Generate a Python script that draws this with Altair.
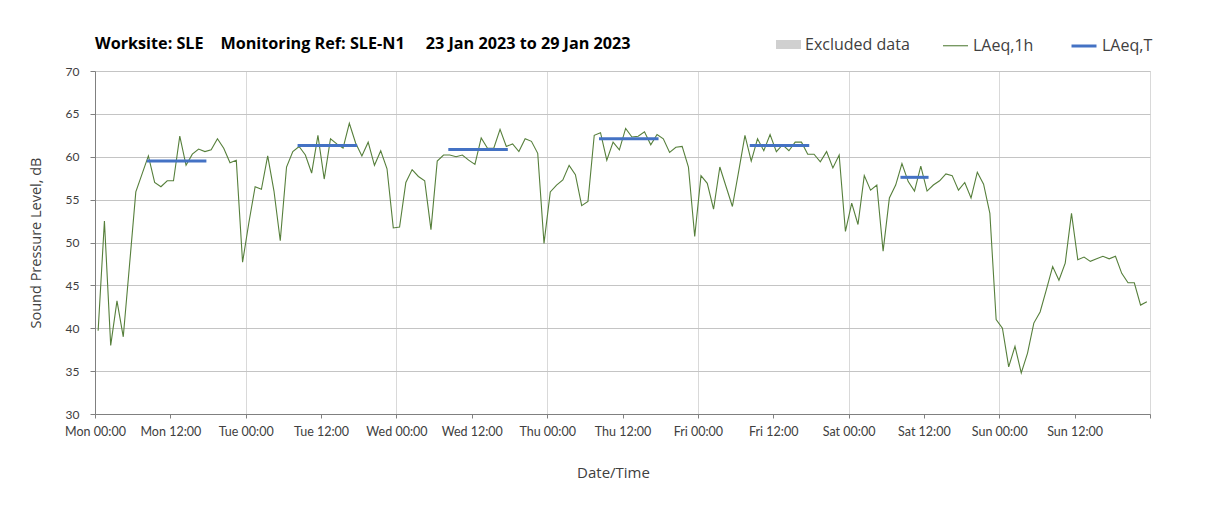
import altair as alt
import pandas as pd

DAYS = ["Mon", "Tue", "Wed", "Thu", "Fri", "Sat", "Sun"]

# LAeq,1h hourly values (dB), one list per day, points at hh:30
mon = [39.7, 52.5, 38.0, 43.2, 39.0, 47.4, 55.9, 58.0, 60.1, 57.0, 56.5, 57.2,
       57.2, 62.4, 59.0, 60.3, 60.9, 60.6, 60.8, 62.1, 61.0, 59.3, 59.6, 47.7]
tue = [52.3, 56.5, 56.2, 60.1, 56.0, 50.2, 58.8, 60.6, 61.2, 60.2, 58.1, 62.5,
       57.4, 62.1, 61.5, 61.0, 63.9, 61.6, 60.1, 61.7, 59.0, 60.7, 58.6, 51.7]
wed = [51.8, 57.0, 58.5, 57.7, 57.2, 51.5, 59.5, 60.2, 60.2, 60.0, 60.2, 59.6,
       59.1, 62.2, 61.0, 61.0, 63.2, 61.2, 61.5, 60.6, 62.1, 61.8, 60.4, 49.9]
thu = [55.9, 56.7, 57.3, 59.0, 57.9, 54.3, 54.8, 62.5, 62.8, 59.6, 61.7, 60.8,
       63.3, 62.3, 62.4, 62.9, 61.4, 62.6, 62.1, 60.5, 61.1, 61.2, 58.8, 50.7]
fri = [57.8, 56.9, 53.9, 58.8, 56.5, 54.2, 58.3, 62.5, 59.5, 62.1, 60.7, 62.6,
       60.6, 61.4, 60.7, 61.7, 61.7, 60.3, 60.3, 59.4, 60.6, 58.7, 60.2, 51.3]
sat = [54.6, 52.1, 57.8, 56.1, 56.7, 49.0, 55.2, 56.7, 59.2, 57.1, 56.0, 58.9,
       56.0, 56.7, 57.2, 58.0, 57.8, 56.1, 57.0, 55.2, 58.2, 56.8, 53.4, 41.0]
sun = [40.0, 35.5, 37.9, 34.8, 37.1, 40.6, 41.9, 44.5, 47.2, 45.6, 47.6, 53.4,
       48.0, 48.3, 47.8, 48.1, 48.4, 48.1, 48.4, 46.4, 45.3, 45.3, 42.7, 43.1]

# LAeq,T daytime periods
t_day = [0, 1, 2, 3, 4, 5]
t_start_hr = [8.5, 8.5, 8.5, 8.5, 8.5, 8.5]
t_end_hr = [17.5, 17.5, 17.5, 17.5, 17.5, 12.5]
t_value = [59.5, 61.3, 60.85, 62.1, 61.3, 57.6]

# Excluded data periods (none in this week)
excluded_start = []
excluded_end = []

LINE_SERIES = ["LAeq,1h", "LAeq,T"]
LINE_COLORS = ["#567f3b", "#4472c4"]
LINE_WIDTHS = [1.1, 3]

rows = []
for d, vals in enumerate([mon, tue, wed, thu, fri, sat, sun]):
    for h, v in enumerate(vals):
        rows.append({"t": d * 24 + h + 0.5, "level": v, "series": "LAeq,1h", "seg": 99})
df_1h = pd.DataFrame(rows)

trows = []
for d, s, e, v in zip(t_day, t_start_hr, t_end_hr, t_value):
    trows.append({"t": d * 24 + s, "level": v, "series": "LAeq,T", "seg": d})
    trows.append({"t": d * 24 + e, "level": v, "series": "LAeq,T", "seg": d})
df_t = pd.DataFrame(trows)

df_ex = pd.DataFrame({"t": pd.Series(excluded_start, dtype=float),
                      "t2": pd.Series(excluded_end, dtype=float),
                      "kind": pd.Series(["Excluded data"] * len(excluded_start), dtype=str)})

FONT = "Lato"
FONT2 = "Open Sans"
TXT = "#404040"

day_arr = "[" + ",".join("'%s'" % d for d in DAYS) + "]"
x_enc = alt.X(
    "t:Q",
    scale=alt.Scale(domain=[0, 168], nice=False, zero=False),
    axis=alt.Axis(
        title="Date/Time",
        values=list(range(0, 169, 12)),
        labelExpr="datum.value >= 168 ? '' : " + day_arr +
                  "[floor(datum.value/24)] + (datum.value % 24 == 0 ? ' 00:00' : ' 12:00')",
        labelOverlap=False,
        labelFlush=False,
        grid=True,
        gridColor="#d9d9d9",
        gridOpacity={"condition": {"test": "datum.value % 24 === 0", "value": 1}, "value": 0},
        tickSize=4,
        tickColor="#808080",
        domainColor="#808080",
        labelFont=FONT,
        labelFontSize=12.5,
        labelColor=TXT,
        labelPadding=7,
        titleFont=FONT2,
        titleFontSize=15,
        titleFontWeight="normal",
        titleColor=TXT,
        titlePadding=28,
        titleX=518,
    ),
)
y_enc = alt.Y(
    "level:Q",
    scale=alt.Scale(domain=[30, 70], nice=False, zero=False),
    axis=alt.Axis(
        title="Sound Pressure Level, dB",
        values=list(range(30, 71, 5)),
        grid=True,
        gridColor="#c4c4c4",
        tickSize=5,
        tickColor="#808080",
        domainColor="#808080",
        labelFont=FONT,
        labelFontSize=12,
        labelColor=TXT,
        labelPadding=11,
        titleFont=FONT2,
        titleFontSize=14.5,
        titleFontWeight="normal",
        titleColor=TXT,
        titlePadding=22,
    ),
)

line_legend = alt.Legend(
    title=None,
    orient="none",
    direction="horizontal",
    legendX=847,
    legendY=-39,
    symbolSize=625,
    symbolType="stroke",
    labelFont=FONT2,
    labelFontSize=16,
    labelColor=TXT,
    labelOffset=4,
    columnPadding=31,
    padding=0,
)
color_enc = alt.Color("series:N", scale=alt.Scale(domain=LINE_SERIES, range=LINE_COLORS),
                      legend=line_legend)
width_enc = alt.StrokeWidth("series:N",
                            scale=alt.Scale(type="point", domain=LINE_SERIES, range=LINE_WIDTHS, padding=0),
                            legend=line_legend)

ex_legend = alt.Legend(
    title=None,
    orient="none",
    direction="horizontal",
    legendX=681,
    legendY=-39,
    symbolSize=625,
    symbolType="M-1,-0.36L1,-0.36L1,0.36L-1,0.36Z",
    symbolStrokeWidth=0,
    symbolOpacity=1,
    labelFont=FONT2,
    labelFontSize=16,
    labelColor=TXT,
    labelOffset=4,
    padding=0,
)

excluded = alt.Chart(df_ex).mark_rect(opacity=1).encode(
    x="t:Q", x2="t2:Q",
    fill=alt.Fill("kind:N", scale=alt.Scale(domain=["Excluded data"], range=["#d0d0d0"]),
                  legend=ex_legend),
)
line_1h = alt.Chart(df_1h).mark_line().encode(
    x=x_enc, y=y_enc, color=color_enc, strokeWidth=width_enc, detail="seg:N"
)
line_t = alt.Chart(df_t).mark_line(strokeCap="square").encode(
    x="t:Q", y="level:Q", color=color_enc, strokeWidth=width_enc, detail="seg:N"
)

chart = alt.layer(excluded, line_1h, line_t).properties(
    width=1055,
    height=343,
    autosize=alt.AutoSizeParams(type="none"),
    padding={"left": 87, "top": 63, "right": 50, "bottom": 80},
    title=alt.TitleParams(
        text="Worksite: SLE\u00a0\u00a0\u00a0\u00a0Monitoring Ref: SLE-N1\u00a0\u00a0\u00a0\u00a0\u00a023 Jan 2023 to 29 Jan 2023",
        anchor="start",
        frame="group",
        font=FONT2,
        fontSize=16.2,
        fontWeight="bold",
        color="black",
        offset=-20,
    ),
).configure_view(strokeWidth=0).configure(background="white")

chart.save("out.html", embed_options={"renderer": "svg", "actions": False})
